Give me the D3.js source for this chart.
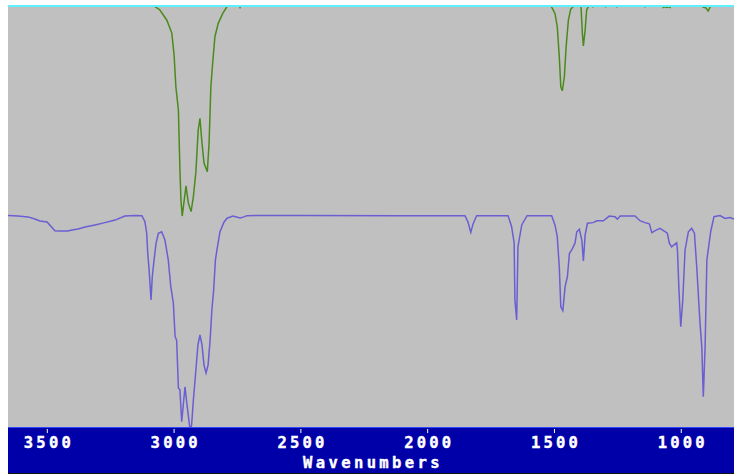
<!DOCTYPE html>
<html>
<head>
<meta charset="utf-8">
<script src="https://cdn.jsdelivr.net/npm/d3@7"></script>
<style>
  html, body { margin: 0; padding: 0; background: #ffffff; }
  svg { display: block; }
</style>
</head>
<body>
<div id="chart"></div>
<script>
// tick labels on the wavenumber axis
const xTicks = [3500, 3000, 2500, 2000, 1500, 1000];
const xLabel = "Wavenumbers";

// lower trace: [wavenumber, %T]
const blueSpectrum = [
  [3653, 99.8], [3614, 99.5], [3574, 99.1], [3547, 98.1], [3527, 97.2], [3499, 96.7],
  [3468, 92.6], [3448, 92.5], [3417, 92.5], [3401, 92.9], [3377, 93.4], [3349, 94.3],
  [3310, 95.3], [3271, 96.4], [3231, 97.6], [3192, 99.5], [3152, 99.8], [3125, 99.7],
  [3113, 96.8], [3106, 91.4], [3102, 82.1], [3096, 73.3], [3089, 59.9], [3084, 70.9],
  [3077, 78.8], [3069, 86.7], [3060, 91.4], [3047, 92.1], [3034, 88.2], [3021, 78.8],
  [3011, 66.2], [3001, 58.5], [2994, 42.6], [2988, 41.0], [2981, 18.4], [2975, 17.5],
  [2968, 2.5], [2955, 19.0], [2947, 10.4], [2935, -1.4], [2929, 0.9], [2922, 12.7],
  [2912, 26.9], [2904, 38.7], [2896, 43.4], [2888, 38.7], [2880, 29.2], [2872, 25.5],
  [2864, 29.2], [2856, 41.0], [2849, 55.2], [2842, 64.6], [2835, 78.8], [2829, 83.5],
  [2817, 92.1], [2801, 96.7], [2789, 98.5], [2766, 99.5], [2738, 98.6], [2722, 99.1],
  [2711, 99.7], [2501, 99.8], [2107, 99.7], [1851, 99.7], [1839, 96.7], [1828, 91.8],
  [1819, 95.8], [1805, 99.7], [1681, 99.7], [1667, 94.5], [1657, 86.8], [1654, 59.9],
  [1647, 50.5], [1642, 85.0], [1627, 95.3], [1606, 99.7], [1509, 99.7], [1496, 95.3],
  [1487, 89.8], [1479, 75.6], [1473, 56.7], [1465, 54.9], [1456, 66.2], [1447, 70.9],
  [1439, 81.9], [1430, 83.5], [1417, 86.7], [1410, 92.1], [1400, 93.3], [1390, 88.2],
  [1384, 78.3], [1377, 90.6], [1368, 96.1], [1345, 96.4], [1331, 97.3], [1305, 97.3],
  [1282, 99.5], [1259, 99.2], [1250, 98.0], [1239, 99.5], [1180, 99.5], [1161, 97.3],
  [1141, 96.4], [1124, 95.8], [1114, 91.7], [1101, 92.6], [1082, 93.7], [1062, 92.1],
  [1053, 91.4], [1045, 86.7], [1036, 85.0], [1016, 86.9], [1013, 83.5], [1007, 64.6],
  [1000, 47.3], [992, 59.9], [983, 83.5], [970, 92.1], [957, 93.7], [946, 91.4],
  [937, 75.6], [924, 48.9], [917, 37.9], [911, 14.3], [904, 37.9], [897, 78.8],
  [882, 92.1], [869, 99.2], [845, 99.7], [825, 98.4], [806, 98.8], [790, 98.1]
];

// upper trace: [wavenumber, %T], drawn shifted up by greenOffset
const greenOffset = 100;
const greenSpectrum = [
  [3653, 100], [3093, 100], [3073, 98.3], [3054, 96.7], [3027, 92.0], [3007, 85.8],
  [2998, 75.5], [2991, 60.5], [2981, 49.5], [2975, 21.2], [2971, 7.1], [2966, -0.5],
  [2958, 7.1], [2951, 13.7], [2942, 5.7], [2931, 1.6], [2922, 8.6], [2912, 20.4],
  [2903, 40.1], [2896, 45.6], [2889, 35.4], [2880, 24.5], [2867, 20.4], [2860, 34.0],
  [2853, 60.5], [2846, 71.6], [2837, 84.1], [2824, 90.4], [2806, 95.1], [2791, 98.0],
  [2781, 100], [2746, 100], [2738, 97.9], [2730, 100], [1519, 100], [1509, 98.0],
  [1496, 95.1], [1487, 88.8], [1479, 74.7], [1473, 60.5], [1467, 58.6], [1459, 65.2],
  [1452, 79.4], [1443, 92.0], [1434, 97.0], [1424, 98.3], [1417, 100], [1397, 100],
  [1393, 97.5], [1388, 85.7], [1384, 79.7], [1377, 87.3], [1371, 96.7], [1364, 98.3],
  [1358, 100], [1350, 100], [1347, 97.9], [1344, 100], [1299, 100], [1296, 97.9],
  [1293, 100], [1255, 100], [1252, 97.9], [1249, 100], [1144, 100], [1141, 97.9],
  [1138, 100], [1072, 100], [1069, 97.9], [1062, 98.2], [1055, 97.9], [1048, 98.2],
  [1042, 97.9], [1039, 100], [920, 100], [912, 98.1], [900, 97.6], [892, 96.2],
  [884, 98.1], [876, 100], [790, 100]
];

const width = 734, height = 475;
const plot = { left: 8, right: 734, top: 7, bottom: 427 };
const labelFont = "'DejaVu Sans Mono', monospace";

const svg = d3.select("#chart").append("svg")
  .attr("width", width)
  .attr("height", height);

const x = d3.scaleLinear()
  .domain([3653, 790])
  .range([plot.left, plot.right]);

const y = d3.scaleLinear()
  .domain([0, 200])
  .range([427, 3]);

// plot background
svg.append("rect")
  .attr("x", plot.left).attr("y", plot.top)
  .attr("width", plot.right - plot.left).attr("height", plot.bottom - plot.top)
  .attr("fill", "#c0c0c0");

svg.append("clipPath").attr("id", "clip")
  .append("rect")
  .attr("x", plot.left).attr("y", plot.top)
  .attr("width", plot.right - plot.left).attr("height", plot.bottom - plot.top);

const traces = svg.append("g").attr("clip-path", "url(#clip)");

const line = d3.line()
  .x(d => x(d[0]))
  .y(d => y(d[1]));

traces.append("path")
  .datum(greenSpectrum.map(d => [d[0], d[1] + greenOffset]))
  .attr("d", line)
  .attr("fill", "none")
  .attr("stroke", "#4a8a1c")
  .attr("stroke-width", 1.5);

traces.append("path")
  .datum(blueSpectrum)
  .attr("d", line)
  .attr("fill", "none")
  .attr("stroke", "#6a5ed2")
  .attr("stroke-width", 1.5);

// cyan top border
svg.append("rect")
  .attr("x", plot.left).attr("y", 5)
  .attr("width", plot.right - plot.left).attr("height", 2)
  .attr("fill", "#5ef0ff");

// axis band
svg.append("rect")
  .attr("x", plot.left).attr("y", 427)
  .attr("width", plot.right - plot.left).attr("height", 46)
  .attr("fill", "#0000a8");
svg.append("rect")
  .attr("x", plot.left).attr("y", 427)
  .attr("width", plot.right - plot.left).attr("height", 1)
  .attr("fill", "#3048ff");
svg.append("rect")
  .attr("x", plot.left).attr("y", 473)
  .attr("width", plot.right - plot.left).attr("height", 1)
  .attr("fill", "#101010");

const axis = svg.append("g")
  .attr("transform", `translate(0,428)`)
  .call(d3.axisBottom(x).tickValues(xTicks).tickSize(5).tickPadding(6).tickFormat(d3.format("d")));

axis.select(".domain").remove();
axis.selectAll(".tick line")
  .attr("stroke", "#ffffff")
  .attr("y1", 1);
axis.selectAll(".tick text")
  .attr("fill", "#ffffff")
  .attr("dy", "0.71em")
  .attr("y", 9)
  .attr("dx", 1.6)
  .style("font-family", labelFont)
  .style("font-weight", "bold")
  .style("font-size", "15.5px")
  .style("letter-spacing", "3.2px")
  .style("stroke", "#ffffff")
  .style("stroke-width", 0.4);

svg.append("text")
  .attr("x", (plot.left + plot.right) / 2 + 2)
  .attr("y", 468)
  .attr("text-anchor", "middle")
  .attr("fill", "#ffffff")
  .style("font-family", labelFont)
  .style("font-weight", "bold")
  .style("font-size", "15.5px")
  .style("letter-spacing", "3.4px")
  .style("stroke", "#ffffff")
  .style("stroke-width", 0.4)
  .text(xLabel);
</script>
</body>
</html>
